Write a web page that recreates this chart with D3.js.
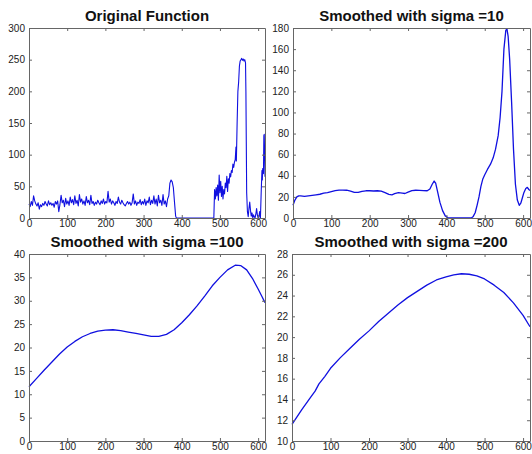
<!DOCTYPE html>
<html>
<head>
<meta charset="utf-8">
<script src="https://cdn.jsdelivr.net/npm/d3@7"></script>
<style>
  body { margin: 0; background: #fff; }
  svg { display: block; font-family: "Liberation Sans", Arial, sans-serif; }
</style>
</head>
<body>
<div id="chart"></div>
<script>
// original signal, noisy part sampled every 3 units from x = 0 to 363
const noiseStep = 3;
const noiseValues = [
  22, 18, 26, 20, 35, 27, 22, 19, 24, 14,
  21, 18, 23, 20, 26, 22, 19, 27, 21, 24,
  20, 23, 17, 26, 22, 27, 10, 21, 36, 24,
  28, 18, 31, 22, 27, 20, 33, 24, 29, 21,
  35, 23, 28, 19, 37, 25, 30, 22, 27, 20,
  34, 24, 28, 21, 36, 23, 26, 20, 25, 22,
  28, 24, 21, 27, 23, 30, 22, 26, 24, 42,
  25, 30, 22, 27, 24, 20, 26, 23, 33, 25,
  22, 28, 24, 21, 19, 23, 26, 22, 25, 20,
  24, 38, 22, 27, 20, 25, 23, 29, 21, 26,
  22, 30, 20, 27, 24, 33, 21, 28, 23, 35,
  22, 30, 19, 36, 24, 28, 20, 37, 22, 27,
  18, 30
];
// rest of the original signal as [x, y]
const origTail = [
  [366, 35], [369, 55], [372, 60], [375, 57], [378, 48], [381, 25], [384, 3], [386, 0],
  [484, 0], [486, 45], [488, 30], [490, 48], [492, 35], [494, 52], [496, 28], [498, 68],
  [500, 40], [502, 58], [504, 34], [506, 50], [508, 30], [510, 45], [512, 38], [514, 55],
  [516, 48], [518, 66], [520, 42], [522, 62], [524, 55], [526, 70], [528, 65], [530, 75],
  [532, 72], [534, 85], [536, 80], [538, 88], [540, 92], [542, 112], [543, 90], [545, 150],
  [547, 200], [549, 215], [551, 240], [553, 248], [555, 250], [557, 252], [559, 249],
  [561, 251], [563, 248], [565, 250], [567, 245], [568, 200], [569, 120], [570, 40],
  [572, 10], [574, 2], [576, 15], [578, 25], [580, 12], [582, 3], [584, 8], [586, 0],
  [588, 5], [590, 2], [592, 0], [594, 6], [596, 15], [598, 5], [600, 0], [602, 2],
  [604, 10], [606, 0], [608, 40], [610, 75], [611, 60], [612, 78], [614, 70], [615, 130],
  [616, 132], [617, 100], [618, 65]
];

const sigma10 = [
  [0, 12], [5, 17], [10, 20], [15, 21], [20, 21], [30, 20.5], [40, 21], [50, 21.5],
  [60, 22], [70, 22.5], [80, 23.5], [90, 24], [100, 25], [110, 26], [120, 26.5],
  [130, 26.5], [140, 26.3], [150, 25.5], [160, 24.2], [170, 24.3], [180, 25.2],
  [190, 25.8], [200, 25.8], [210, 25.6], [220, 25.8], [230, 25.5], [240, 24],
  [250, 22.3], [258, 22], [265, 23], [275, 24], [285, 23.5], [292, 23.2], [300, 24.5],
  [310, 26], [320, 26.3], [330, 26.2], [340, 26], [350, 25.8], [357, 27.5], [363, 32],
  [368, 35], [372, 33], [377, 25], [383, 15], [390, 7], [397, 2], [405, 0], [465, 0],
  [470, 1.5], [475, 5], [480, 12], [485, 20], [490, 30], [495, 37], [500, 41], [507, 46],
  [515, 51], [522, 57], [528, 65], [535, 78], [540, 95], [545, 120], [550, 160],
  [555, 178], [558, 179], [561, 172], [565, 150], [570, 110], [575, 65], [580, 32],
  [585, 17], [590, 12], [594, 14], [598, 19], [602, 24], [607, 28], [611, 29],
  [615, 27], [618, 26]
];

const sigma100 = [
  [0, 11.6], [20, 13.4], [40, 15.2], [60, 16.9], [80, 18.6], [100, 20.1], [120, 21.3],
  [140, 22.3], [160, 23], [180, 23.5], [200, 23.7], [220, 23.8], [240, 23.6],
  [260, 23.3], [280, 23], [300, 22.7], [320, 22.4], [340, 22.4], [360, 22.8],
  [380, 23.8], [400, 25.3], [420, 27], [440, 28.9], [460, 31], [480, 33.2],
  [500, 35], [520, 36.6], [540, 37.6], [555, 37.5], [570, 36.6], [585, 34.8],
  [600, 32.5], [610, 30.9], [618, 29.6]
];

const sigma200 = [
  [0, 11.6], [25, 13], [50, 14.3], [60, 14.8], [70, 15.5], [85, 16.2], [100, 17],
  [125, 18], [150, 18.9], [175, 19.8], [200, 20.6], [225, 21.5], [250, 22.3],
  [275, 23.1], [300, 23.8], [325, 24.4], [350, 25], [375, 25.5], [400, 25.8],
  [420, 26], [440, 26.1], [460, 26.05], [480, 25.9], [500, 25.6], [525, 25],
  [550, 24.3], [575, 23.3], [600, 22.1], [618, 21]
];

const xTicks = [0, 100, 200, 300, 400, 500, 600];
const yTicks1 = [0, 50, 100, 150, 200, 250, 300];
const yTicks2 = [0, 20, 40, 60, 80, 100, 120, 140, 160, 180];
const yTicks3 = [0, 5, 10, 15, 20, 25, 30, 35, 40];
const yTicks4 = [10, 12, 14, 16, 18, 20, 22, 24, 26, 28];
const titles = ["Original Function", "Smoothed with sigma =10",
  "Smoothed with sigma =100", "Smoothed with sigma =200"];

const original = noiseValues.map((v, i) => [i * noiseStep, v]).concat(origTail);

const panels = [
  { title: titles[0], data: original, yTicks: yTicks1, box: [29, 28, 265, 218], lw: 1.1 },
  { title: titles[1], data: sigma10, yTicks: yTicks2, box: [293, 28, 530, 218], lw: 1.3 },
  { title: titles[2], data: sigma100, yTicks: yTicks3, box: [29, 254, 265, 441], lw: 1.3 },
  { title: titles[3], data: sigma200, yTicks: yTicks4, box: [292, 254, 530, 441], lw: 1.3 }
];

const svg = d3.select("#chart").append("svg")
  .attr("width", 532)
  .attr("height", 454);

panels.forEach(p => {
  const [x0, y0, x1, y1] = p.box;
  const x = d3.scaleLinear().domain([0, 618]).range([x0, x1]);
  const y = d3.scaleLinear()
    .domain([p.yTicks[0], p.yTicks[p.yTicks.length - 1]])
    .range([y1, y0]);

  const g = svg.append("g");

  g.append("rect")
    .attr("x", x0).attr("y", y0)
    .attr("width", x1 - x0).attr("height", y1 - y0)
    .attr("fill", "#fff");

  const line = d3.line().x(d => x(d[0])).y(d => y(d[1]));
  g.append("path")
    .datum(p.data)
    .attr("d", line)
    .attr("fill", "none")
    .attr("stroke", "#1010e0")
    .attr("stroke-width", p.lw)
    .attr("stroke-linejoin", "round");

  // MATLAB style: ticks inward on all four sides
  const tl = 3;
  const bottom = d3.axisBottom(x).tickValues(xTicks).tickSizeInner(-tl).tickSizeOuter(0).tickPadding(2);
  const top = d3.axisTop(x).tickValues(xTicks).tickSizeInner(-tl).tickSizeOuter(0).tickFormat("");
  const left = d3.axisLeft(y).tickValues(p.yTicks).tickSizeInner(-tl).tickSizeOuter(0).tickPadding(4);
  const right = d3.axisRight(y).tickValues(p.yTicks).tickSizeInner(-tl).tickSizeOuter(0).tickFormat("");

  const axes = [
    g.append("g").attr("transform", `translate(0,${y1})`).call(bottom),
    g.append("g").attr("transform", `translate(0,${y0})`).call(top),
    g.append("g").attr("transform", `translate(${x0},0)`).call(left),
    g.append("g").attr("transform", `translate(${x1},0)`).call(right)
  ];
  axes.forEach(a => {
    a.select(".domain").attr("stroke", "#666").attr("stroke-width", 1);
    a.selectAll(".tick line").attr("stroke", "#666");
    a.selectAll("text")
      .attr("fill", "#222")
      .style("font-size", "10px")
      .style("font-family", "'Liberation Sans', Arial, sans-serif");
  });

  g.append("text")
    .attr("x", (x0 + x1) / 2)
    .attr("y", y0 - 7)
    .attr("text-anchor", "middle")
    .style("font-size", "15px")
    .style("font-weight", "bold")
    .attr("fill", "#111")
    .text(p.title);
});
</script>
</body>
</html>
